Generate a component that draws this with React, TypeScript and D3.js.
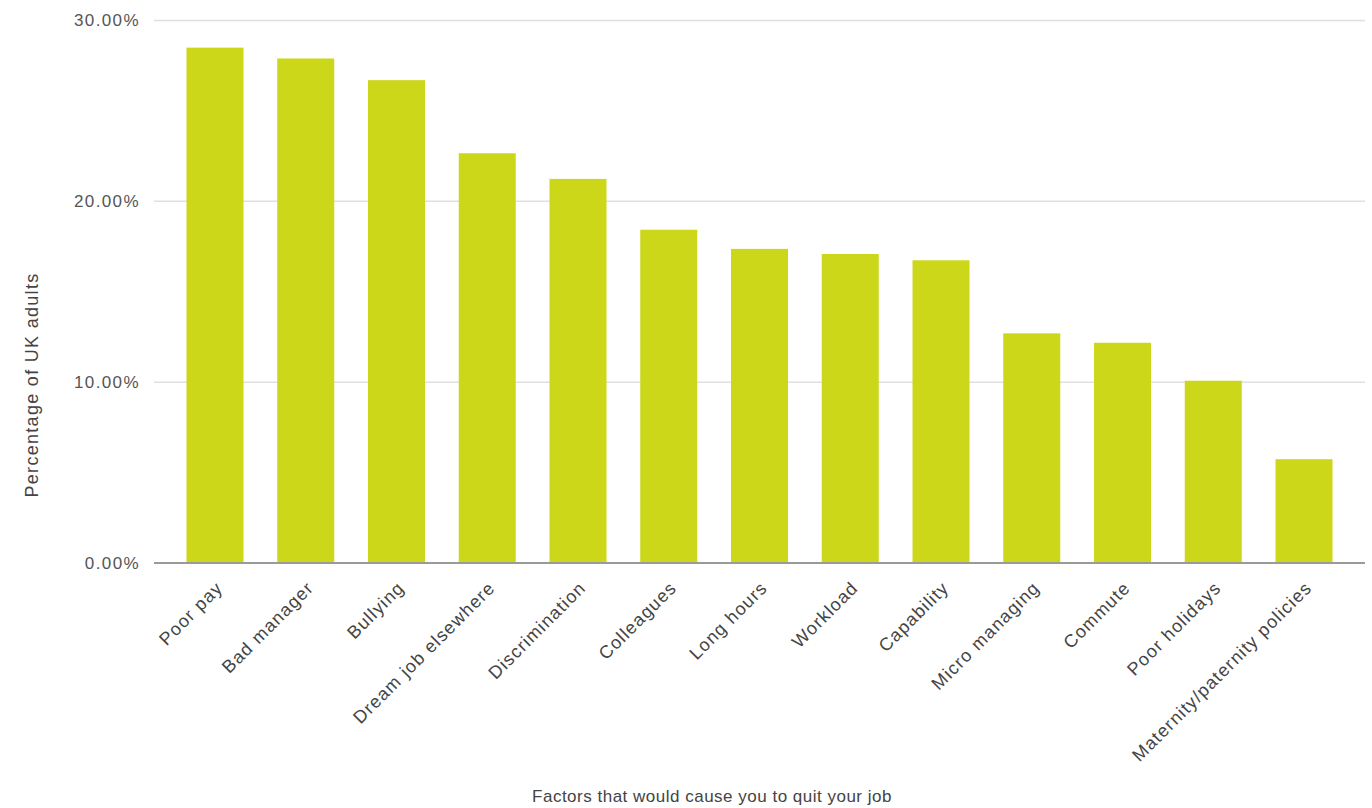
import React from "react";
import * as d3 from "d3";

const categories = [
  "Poor pay",
  "Bad manager",
  "Bullying",
  "Dream job elsewhere",
  "Discrimination",
  "Colleagues",
  "Long hours",
  "Workload",
  "Capability",
  "Micro managing",
  "Commute",
  "Poor holidays",
  "Maternity/paternity policies",
];
const values = [28.5, 27.9, 26.7, 22.66, 21.24, 18.43, 17.37, 17.09, 16.74, 12.7, 12.18, 10.08, 5.74];
const yTicks = [0, 10, 20, 30];
const yTitle = "Percentage of UK adults";
const xTitle = "Factors that would cause you to quit your job";

const W = 1372;
const H = 808;
const left = 154;
const right = 1365;
const top = 20.5;
const bottom = 563;
const font = "'Liberation Sans', Arial, sans-serif";

export default function App() {
  const x = d3
    .scaleBand<string>()
    .domain(categories)
    .range([left, right])
    .paddingInner(0.372)
    .paddingOuter(0.358);
  const y = d3.scaleLinear().domain([0, 30]).range([bottom, top]);
  const fmt = (v: number) => v.toFixed(2) + "%";

  return (
    <div style={{ position: "fixed", left: 0, top: 0, width: W, height: H, background: "#fff" }}>
      <svg width={W} height={H} style={{ display: "block" }}>
        <rect x={0} y={0} width={W} height={H} fill="#fff" />
        {yTicks.map((t) =>
          t === 0 ? null : (
            <line key={"g" + t} x1={left} x2={right} y1={y(t)} y2={y(t)} stroke="#e0e0e0" strokeWidth={1.5} />
          )
        )}
        {yTicks.map((t) => (
          <text
            key={"t" + t}
            x={140}
            y={y(t)}
            dy="0.35em"
            textAnchor="end"
            fontFamily={font}
            fontSize={17}
            letterSpacing={1.4}
            fill="#555"
          >
            {fmt(t)}
          </text>
        ))}
        {categories.map((c, i) => (
          <rect
            key={c}
            x={x(c)!}
            y={y(values[i])}
            width={x.bandwidth()}
            height={y(0) - y(values[i])}
            fill="#ccd71a"
          />
        ))}
        <line x1={left} x2={right} y1={y(0)} y2={y(0)} stroke="#9a9a9a" strokeWidth={2} />
        {categories.map((c) => {
          const cx = x(c)! + x.bandwidth() / 2 + 9;
          const cy = 589;
          return (
            <text
              key={"l" + c}
              transform={`translate(${cx},${cy}) rotate(-45)`}
              textAnchor="end"
              fontFamily={font}
              fontSize={18}
              letterSpacing={1.15}
              fill="#444"
            >
              {c}
            </text>
          );
        })}
        <text
          transform={`translate(38,${385}) rotate(-90)`}
          textAnchor="middle"
          fontFamily={font}
          fontSize={18}
          letterSpacing={1.3}
          fill="#444"
        >
          {yTitle}
        </text>
        <text
          x={712}
          y={802}
          textAnchor="middle"
          fontFamily={font}
          fontSize={17}
          letterSpacing={0.5}
          fill="#444"
        >
          {xTitle}
        </text>
      </svg>
    </div>
  );
}
